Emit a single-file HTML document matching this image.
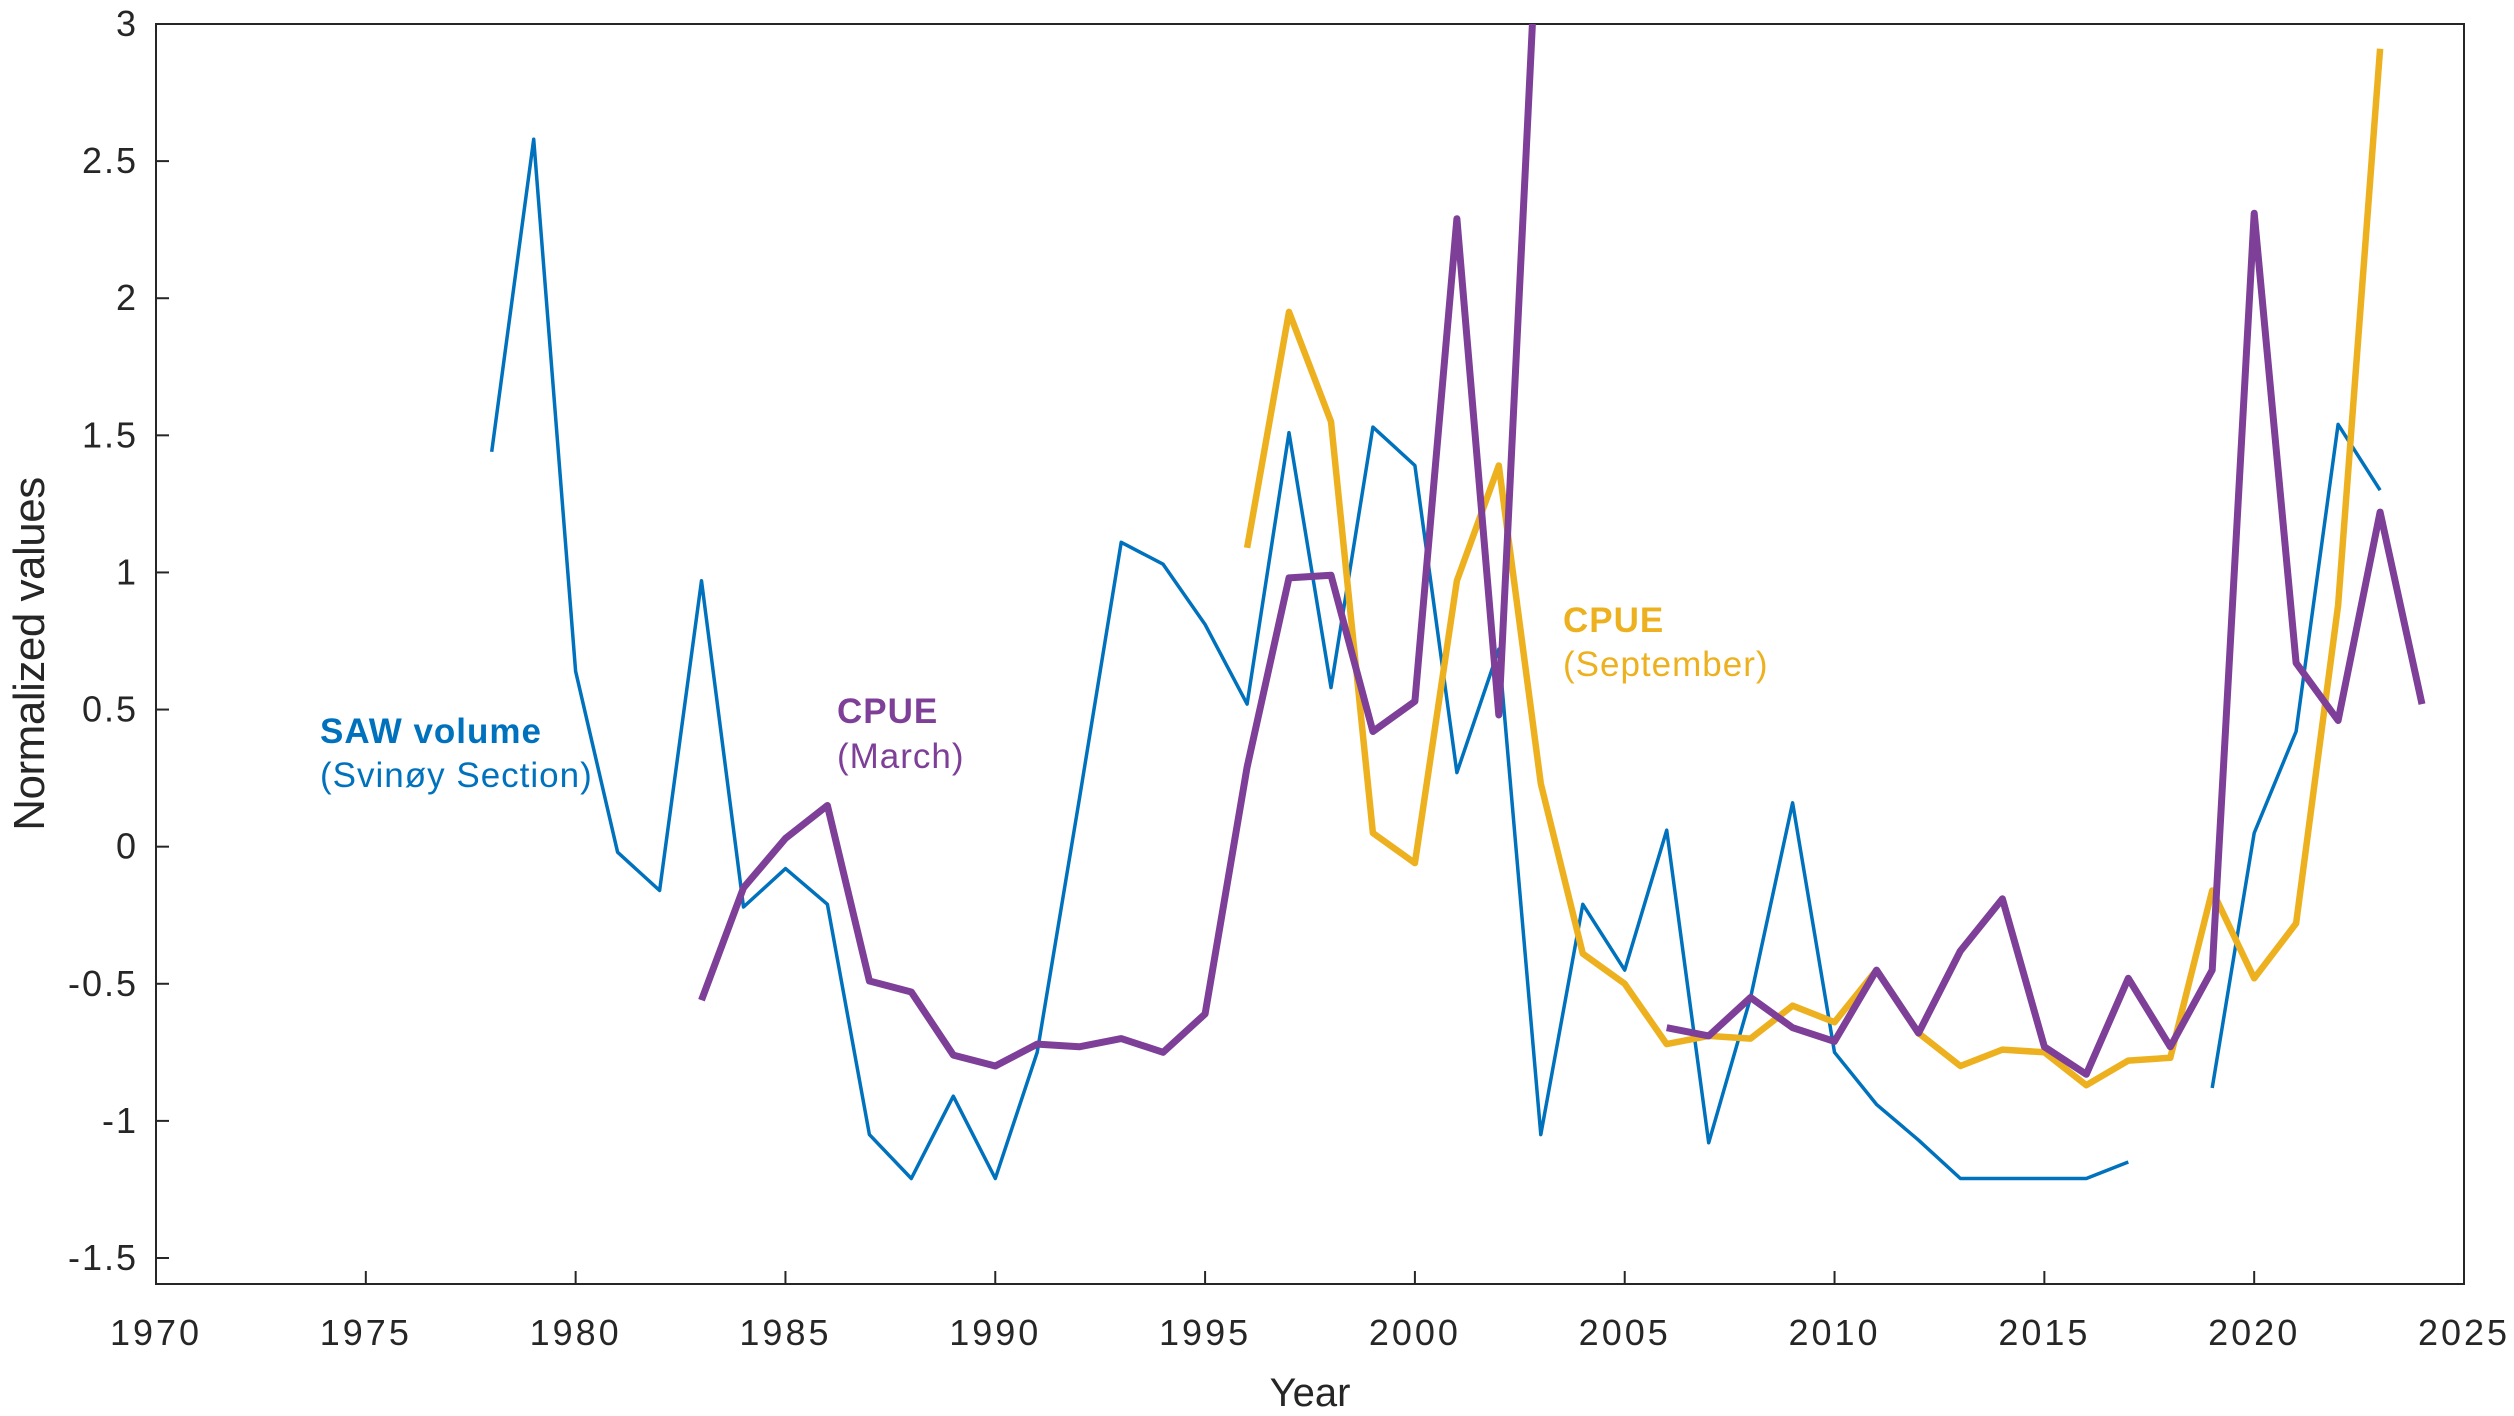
<!DOCTYPE html>
<html><head><meta charset="utf-8"><style>
html,body{margin:0;padding:0;background:#fff;}
svg{display:block;font-family:"Liberation Sans",Arial,sans-serif;}
</style></head><body>
<svg id="chart" width="2514" height="1416" viewBox="0 0 2514 1416">
<defs><clipPath id="plotclip"><rect x="156" y="24" width="2308" height="1260"/></clipPath></defs>
<rect x="0" y="0" width="2514" height="1416" fill="#fff"/>
<g id="axes"></g>
<g id="series" clip-path="url(#plotclip)"></g>
<text x="320" y="743" fill="#0072BD" font-size="35" font-weight="bold" letter-spacing="1">SAW volume</text>
<text x="320" y="787" fill="#0072BD" font-size="35" letter-spacing="1">(Svinøy Section)</text>
<text x="837" y="723" fill="#7E3F98" font-size="35" font-weight="bold" letter-spacing="1">CPUE</text>
<text x="837" y="768" fill="#7E3F98" font-size="35" letter-spacing="1">(March)</text>
<text x="1563" y="632" fill="#EDB120" font-size="35" font-weight="bold" letter-spacing="1">CPUE</text>
<text x="1563" y="676" fill="#EDB120" font-size="35" letter-spacing="1">(September)</text>
<text x="1310" y="1406" text-anchor="middle" fill="#262626" font-size="40">Year</text>
<text transform="translate(44,654) rotate(-90)" text-anchor="middle" fill="#262626" font-size="44" letter-spacing="-0.5">Normalized values</text>
</svg>
<script>
const years = [1978,1979,1980,1981,1982,1983,1984,1985,1986,1987,1988,1989,1990,1991,1992,1993,1994,1995,1996,1997,1998,1999,2000,2001,2002,2003,2004,2005,2006,2007,2008,2009,2010,2011,2012,2013,2014,2015,2016,2017,2018,2019,2020,2021,2022,2023,2024];
const sawVolume = [1.44,2.58,0.64,-0.02,-0.16,0.97,-0.22,-0.08,-0.21,-1.05,-1.21,-0.91,-1.21,-0.75,0.17,1.11,1.03,0.81,0.52,1.51,0.58,1.53,1.39,0.27,0.72,-1.05,-0.21,-0.45,0.06,-1.08,-0.55,0.16,-0.75,-0.94,-1.07,-1.21,-1.21,-1.21,-1.21,-1.15,null,-0.88,0.05,0.42,1.54,1.30,null];
const cpueMarch = [null,null,null,null,null,-0.56,-0.15,0.03,0.15,-0.49,-0.53,-0.76,-0.80,-0.72,-0.73,-0.70,-0.75,-0.61,0.29,0.98,0.99,0.42,0.53,2.29,0.48,3.63,null,null,-0.66,-0.69,-0.55,-0.66,-0.71,-0.45,-0.68,-0.38,-0.19,-0.73,-0.83,-0.48,-0.73,-0.45,2.31,0.67,0.46,1.22,0.52];
const cpueSeptember = [null,null,null,null,null,null,null,null,null,null,null,null,null,null,null,null,null,null,1.09,1.95,1.55,0.05,-0.06,0.97,1.39,0.23,-0.39,-0.50,-0.72,-0.69,-0.70,-0.58,-0.64,-0.45,-0.68,-0.80,-0.74,-0.75,-0.87,-0.78,-0.77,-0.16,-0.48,-0.28,0.88,2.91,null];
const xTicks = [1970,1975,1980,1985,1990,1995,2000,2005,2010,2015,2020,2025];
const yTicks = [-1.5,-1,-0.5,0,0.5,1,1.5,2,2.5,3];

const L=156,R=2464,T=24,B=1284;
const xMin=1970,xMax=2025,yTop=3,yBot=-1.5,yBotPix=1258;
function xs(v){return L+(v-xMin)/(xMax-xMin)*(R-L);}
function ys(v){return T+(yTop-v)/(yTop-yBot)*(yBotPix-T);}
const NS="http://www.w3.org/2000/svg";
const axes=document.getElementById('axes');
const ser=document.getElementById('series');
function mk(tag,attrs,parent){const e=document.createElementNS(NS,tag);for(const k in attrs)e.setAttribute(k,attrs[k]);parent.appendChild(e);return e;}

const frame=mk('rect',{x:L,y:T,width:R-L,height:B-T,fill:'none',stroke:'#262626','stroke-width':2},axes);


xTicks.forEach(t=>{
  const x=xs(t);
  const tk=mk('line',{x1:x,x2:x,y1:B,y2:B-13,stroke:'#262626','stroke-width':2},axes);
  
  
  const lb=mk('text',{x:x,y:1345,'text-anchor':'middle','font-size':36,'letter-spacing':3,fill:'#262626'},axes);
  lb.textContent=t;
  
  
});
yTicks.forEach(t=>{
  const y=ys(t);
  const tk=mk('line',{x1:L,x2:L+13,y1:y,y2:y,stroke:'#262626','stroke-width':2},axes);
  
  
  const lb=mk('text',{x:138,y:y+12,'text-anchor':'end','font-size':36,'letter-spacing':2,fill:'#262626'},axes);
  lb.textContent=String(t);
  
  
});
function drawSeries(vals,color,w,name){
  let d='',pen=false;
  vals.forEach((v,i)=>{
    if(v===null){pen=false;return;}
    d+=(pen?'L':'M')+xs(years[i]).toFixed(1)+' '+ys(v).toFixed(1)+' ';
    pen=true;
  });
  const p=mk('path',{d:d,fill:'none',stroke:color,'stroke-width':w,'stroke-linejoin':'round'},ser);
  
  
}
drawSeries(sawVolume,'#0072BD',3.5,'saw-volume-line');
drawSeries(cpueSeptember,'#EDB120',6.5,'cpue-september-line');
drawSeries(cpueMarch,'#7E3F98',7,'cpue-march-line');
</script>
</body></html>
